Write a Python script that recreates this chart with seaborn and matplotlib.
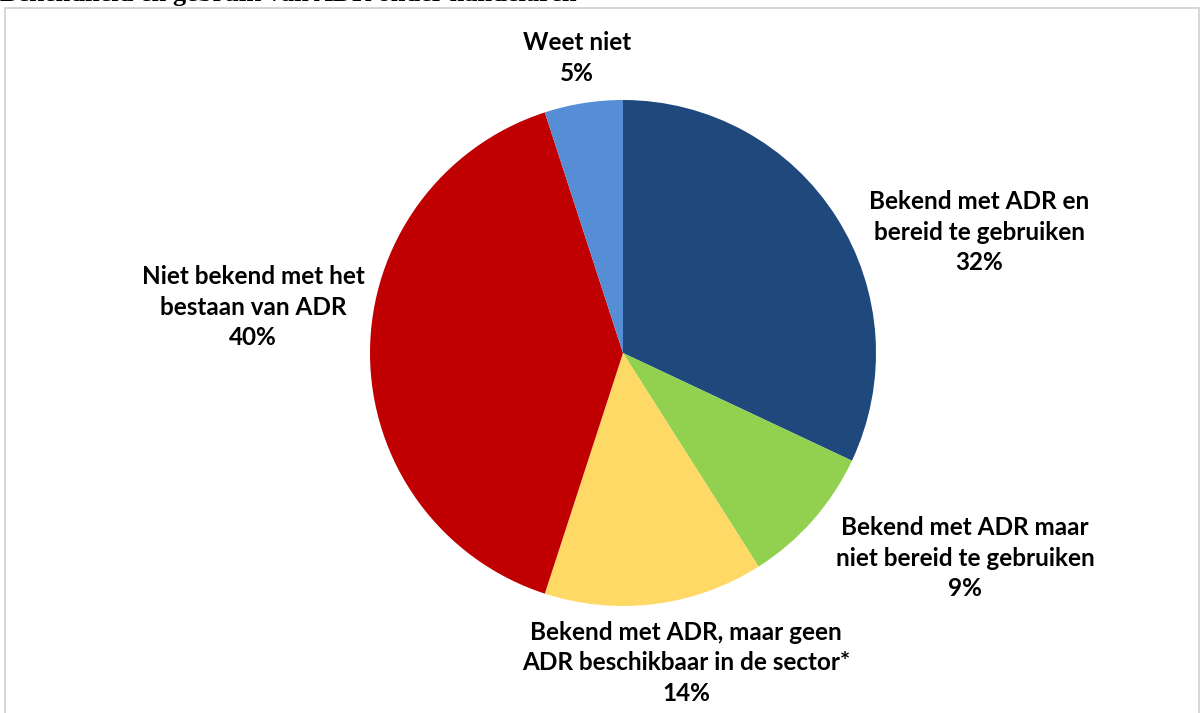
import matplotlib
matplotlib.use("Agg")
import matplotlib.pyplot as plt
import seaborn as sns
from matplotlib.patches import Rectangle

categories = [
    "Bekend met ADR en\nbereid te gebruiken",
    "Bekend met ADR maar\nniet bereid te gebruiken",
    "Bekend met ADR, maar geen\nADR beschikbaar in de sector*",
    "Niet bekend met het\nbestaan van ADR",
    "Weet niet",
]
values = [32, 9, 14, 40, 5]
pct_labels = ["32%", "9%", "14%", "40%", "5%"]
colors = ["#1F497D", "#92D050", "#FFD966", "#C00000", "#558ED5"]
title = "Bekendheid en gebruik van ADR onder handelaren"

sns.set_theme(style="white")
plt.rcParams["font.family"] = ["Lato", "DejaVu Sans"]

W, H = 1203, 713
fig = plt.figure(figsize=(W / 100, H / 100), dpi=100)
fig.patch.set_facecolor("white")

# frame
fig.patches.append(Rectangle((5 / W, -0.01), (1199 - 5) / W, 1 - 8 / H + 0.01,
                             transform=fig.transFigure, fill=False,
                             edgecolor="#D0D0D0", linewidth=1.2))

# title (cut off at the top, as in the reference)
fig.text(0.0, 1 - 1 / H, title, ha="left", va="baseline",
         fontsize=19, fontweight="bold", family=["Liberation Serif", "DejaVu Serif"],
         color="black")

cx, cy, r = 623, 353, 253
ax = fig.add_axes([(cx - r) / W, (H - cy - r) / H, 2 * r / W, 2 * r / H])
pal = sns.color_palette(colors)
ax.pie(values, colors=pal, startangle=90, counterclock=False,
       wedgeprops=dict(linewidth=0))
ax.set_xlim(-1, 1)
ax.set_ylim(-1, 1)
ax.set_aspect("equal")
ax.axis("off")

# label positions (pixel centers)
label_pos = [(979, 232), (965, 558), (686, 663), (253, 307), (577, 58)]
for cat, pct, (px, py) in zip(categories, pct_labels, label_pos):
    fig.text(px / W, 1 - py / H, cat + "\n" + pct, ha="center", va="center",
             fontsize=17.5, fontweight="bold", color="black", linespacing=1.42)

fig.savefig("out.png", dpi=100)
